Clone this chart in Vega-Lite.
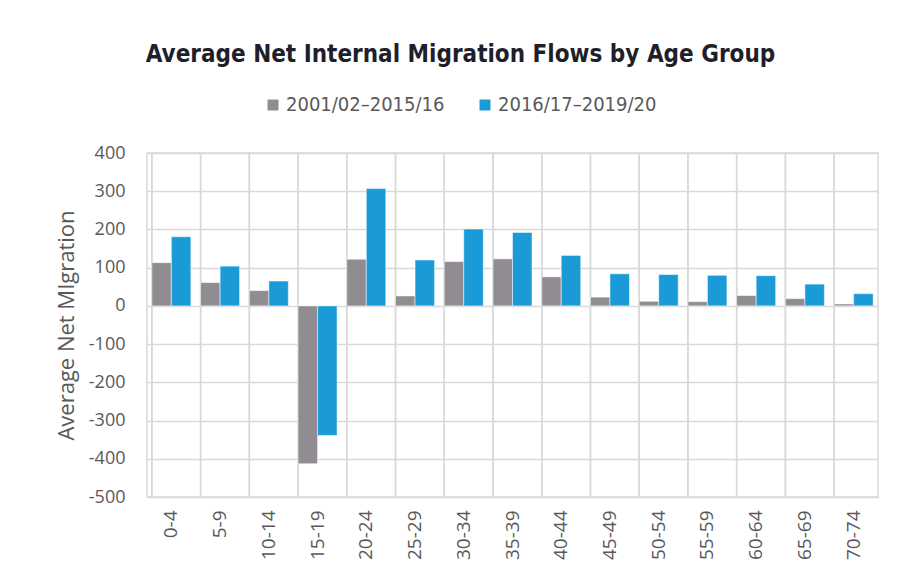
{
  "$schema": "https://vega.github.io/schema/vega-lite/v6.json",
  "width": 731,
  "height": 344,
  "autosize": "none",
  "padding": {"left": 147, "top": 153, "right": 24, "bottom": 87},
  "background": "white",
  "title": {
    "text": "Average Net Internal Migration Flows by Age Group",
    "anchor": "middle",
    "frame": "group",
    "dx": -52,
    "offset": 28,
    "font": "DejaVu Sans Condensed",
    "fontSize": 24,
    "fontWeight": "bold",
    "color": "#1f1f2b"
  },
  "data": {
    "values": [
      {"age": "0-4", "period": "2001/02–2015/16", "value": 113},
      {"age": "0-4", "period": "2016/17–2019/20", "value": 181},
      {"age": "5-9", "period": "2001/02–2015/16", "value": 61},
      {"age": "5-9", "period": "2016/17–2019/20", "value": 104},
      {"age": "10-14", "period": "2001/02–2015/16", "value": 40},
      {"age": "10-14", "period": "2016/17–2019/20", "value": 65},
      {"age": "15-19", "period": "2001/02–2015/16", "value": -413},
      {"age": "15-19", "period": "2016/17–2019/20", "value": -339},
      {"age": "20-24", "period": "2001/02–2015/16", "value": 122},
      {"age": "20-24", "period": "2016/17–2019/20", "value": 307},
      {"age": "25-29", "period": "2001/02–2015/16", "value": 26},
      {"age": "25-29", "period": "2016/17–2019/20", "value": 120},
      {"age": "30-34", "period": "2001/02–2015/16", "value": 116},
      {"age": "30-34", "period": "2016/17–2019/20", "value": 201},
      {"age": "35-39", "period": "2001/02–2015/16", "value": 123},
      {"age": "35-39", "period": "2016/17–2019/20", "value": 192},
      {"age": "40-44", "period": "2001/02–2015/16", "value": 76},
      {"age": "40-44", "period": "2016/17–2019/20", "value": 132},
      {"age": "45-49", "period": "2001/02–2015/16", "value": 23},
      {"age": "45-49", "period": "2016/17–2019/20", "value": 84},
      {"age": "50-54", "period": "2001/02–2015/16", "value": 12},
      {"age": "50-54", "period": "2016/17–2019/20", "value": 82},
      {"age": "55-59", "period": "2001/02–2015/16", "value": 11},
      {"age": "55-59", "period": "2016/17–2019/20", "value": 80},
      {"age": "60-64", "period": "2001/02–2015/16", "value": 27},
      {"age": "60-64", "period": "2016/17–2019/20", "value": 79},
      {"age": "65-69", "period": "2001/02–2015/16", "value": 19},
      {"age": "65-69", "period": "2016/17–2019/20", "value": 57},
      {"age": "70-74", "period": "2001/02–2015/16", "value": 5},
      {"age": "70-74", "period": "2016/17–2019/20", "value": 32}
    ]
  },
  "layer": [
    {
      "mark": {"type": "rule", "color": "#d9d9d9", "strokeWidth": 1.5},
      "encoding": {
        "x": {"field": "age", "type": "nominal", "sort": null, "bandPosition": 0}
      }
    },
    {
      "mark": {"type": "bar", "stroke": "white", "strokeWidth": 0.5},
      "encoding": {
        "x": {
          "field": "age",
          "type": "nominal",
          "sort": null,
          "scale": {"paddingInner": 0.2, "paddingOuter": 0.1},
          "axis": {
            "title": null,
            "labelAngle": -90,
            "labelPadding": 13,
            "labelFont": "Open Sans",
            "labelFontSize": 19,
            "labelColor": "#595959",
            "ticks": false,
            "domain": false,
            "grid": false
          }
        },
        "xOffset": {"field": "period", "type": "nominal", "sort": null},
        "y": {
          "field": "value",
          "type": "quantitative",
          "scale": {"domain": [-500, 400], "nice": false},
          "axis": {
            "title": "Average Net MIgration",
            "titleFont": "Open Sans",
            "titleFontSize": 22,
            "titleFontWeight": "normal",
            "titleColor": "#595959",
            "titlePadding": 10,
            "values": [-500, -400, -300, -200, -100, 0, 100, 200, 300, 400],
            "labelExpr": "'' + datum.value",
            "labelFont": "Open Sans",
            "labelFontSize": 18,
            "labelColor": "#595959",
            "labelPadding": 22,
            "ticks": false,
            "domain": false,
            "grid": true,
            "gridColor": "#d9d9d9",
            "gridWidth": 1.5
          }
        },
        "color": {
          "field": "period",
          "type": "nominal",
          "sort": null,
          "scale": {"range": ["#918c92", "#1a9bd8"]},
          "legend": {
            "title": null,
            "orient": "none",
            "legendX": 116,
            "legendY": -58,
            "direction": "horizontal",
            "symbolType": "square",
            "symbolSize": 120,
            "symbolStrokeWidth": 0,
            "labelFont": "DejaVu Sans Condensed",
            "labelFontSize": 20,
            "labelColor": "#595959",
            "labelOffset": 3,
            "columnPadding": 30
          }
        }
      }
    }
  ],
  "config": {
    "view": {"stroke": "#d9d9d9", "strokeWidth": 1.5}
  }
}
